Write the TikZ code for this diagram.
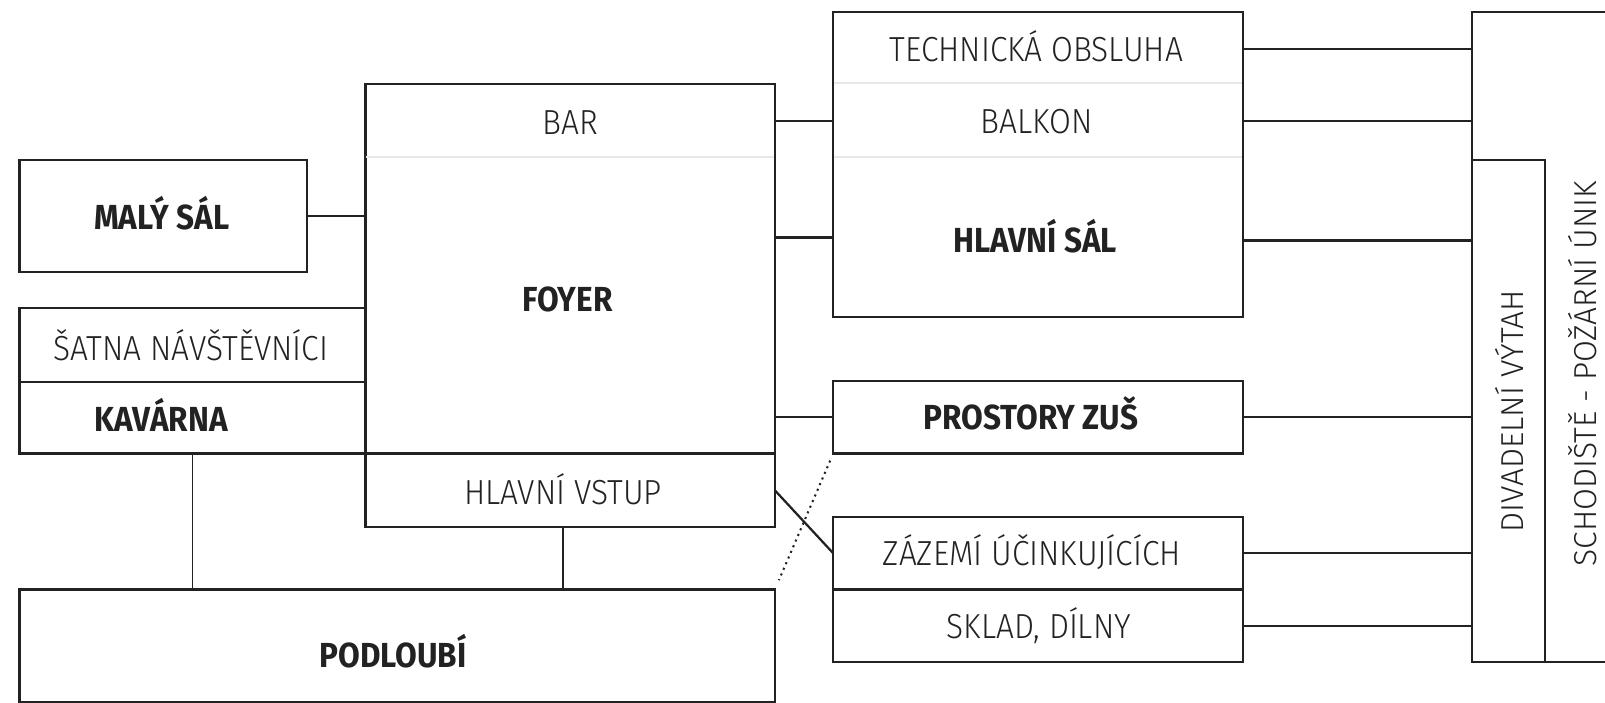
\documentclass[tikz,border=0pt]{standalone}
\usepackage{fontspec}
\setmainfont{Fira Sans Light}[BoldFont={Fira Sans Bold},FakeStretch=0.91,BoldFeatures={FakeStretch=0.905}]
\newfontfamily\vertfont{Fira Sans Light}
\begin{document}
\begin{tikzpicture}[x=0.5pt,y=-0.5pt,
  every node/.style={inner sep=0pt,outer sep=0pt,text=ink},
  room/.style n args={2}{draw=ink,line width=1.1pt,minimum width=#1*0.5pt,minimum height=#2*0.5pt},
  lbl/.style={font=\fontsize{17}{17}\selectfont,anchor=base,yshift=-5.86pt},
  blbl/.style={font=\fontsize{17}{17}\selectfont\bfseries,anchor=base,yshift=-5.86pt},
  vlbl/.style={font=\vertfont\fontsize{15.5}{15.5}\selectfont,rotate=90},
  conn/.style={draw=ink,line width=1.1pt},
  thin/.style={draw=ink,line width=0.9pt},
  divider/.style={draw=lightgray,line width=1pt}
]
\definecolor{ink}{HTML}{222222}
\definecolor{lightgray}{HTML}{E8E8E8}
\useasboundingbox (0,0) rectangle (1568,686);
% boxes
\node[room={281}{110}] (malysal) at (159.5,211) {};
\node[blbl] (malysaltxt) at (158,212) {MALÝ SÁL};
\node[room={338}{72}] (satna) at (188,337) {};
\node[lbl] (satnatxt) at (186.5,340) {ŠATNA NÁVŠTĚVNÍCI};
\node[room={338}{70}] (kavarna) at (188,408) {};
\node[blbl] (kavarnatxt) at (157.5,410) {KAVÁRNA};
\node[room={400}{361}] (foyer) at (557,262.5) {};
\draw[divider] (358,153) -- (756,153);
\node[lbl] (bar) at (557,120) {BAR};
\node[blbl] (foyertxt) at (554.5,293) {FOYER};
\node[room={400}{72}] (vstup) at (557,479) {};
\node[lbl] (vstuptxt) at (550,481) {HLAVNÍ VSTUP};
\node[room={738}{110}] (podloubi) at (388,631) {};
\node[blbl] (podloubitxt) at (384,640) {PODLOUBÍ};
\node[room={400}{298}] (tech) at (1014,161) {};
\draw[divider] (815,81) -- (1213,81);
\draw[divider] (815,153) -- (1213,153);
\node[lbl] (techtxt) at (1012.5,48) {TECHNICKÁ OBSLUHA};
\node[lbl] (balkontxt) at (1013,119) {BALKON};
\node[blbl] (saltxt) at (1011.5,235) {HLAVNÍ SÁL};
\node[room={400}{71}] (zus) at (1014,407.5) {};
\node[blbl] (zustxt) at (1007,408) {PROSTORY ZUŠ};
\node[room={400}{71}] (zazemi) at (1014,540.5) {};
\node[lbl] (zazemitxt) at (1008,541) {ZÁZEMÍ ÚČINKUJÍCÍCH};
\node[room={400}{71}] (sklad) at (1014,611.5) {};
\node[lbl] (skladtxt) at (1015,612) {SKLAD, DÍLNY};
\node[room={216}{635}] (schod) at (1546,329.5) {};
\node[room={71}{491}] (vytah) at (1473.5,401.5) {};
\node[vlbl] (vytahtxt) at (1475,402) {DIVADELNÍ VÝTAH};
\node[vlbl] (schodtxt) at (1546,365) {SCHODIŠTĚ - POŽÁRNÍ ÚNIK};
% connectors left side
\draw[conn] (malysal.east) -- (foyer.west |- malysal.east);
\draw[conn] (foyer.east |- 0,118) -- (tech.west |- 0,118);
\draw[conn] (foyer.east |- 0,232) -- (tech.west |- 0,232);
\draw[conn] (foyer.east |- zus.west) -- (zus.west);
\draw[conn] (vstup.east) -- (zazemi.west);
\draw[thin] (kavarna.south) -- (podloubi.north -| kavarna.south);
\draw[thin] (550,515) coordinate (vs) -- (podloubi.north -| vs);
\draw[ink,line width=1pt,dotted,shorten <=3.8pt,shorten >=5pt] (zus.south west) -- (podloubi.north east);
% connectors right side
\draw[conn] (tech.east |- 0,48) -- (schod.west |- 0,48);
\draw[conn] (tech.east |- 0,118) -- (schod.west |- 0,118);
\draw[conn] (tech.east |- 0,235) -- (vytah.west |- 0,235);
\draw[conn] (zus.east) -- (vytah.west |- zus.east);
\draw[conn] (zazemi.east) -- (vytah.west |- zazemi.east);
\draw[conn] (sklad.east) -- (vytah.west |- sklad.east);
\end{tikzpicture}
\end{document}
